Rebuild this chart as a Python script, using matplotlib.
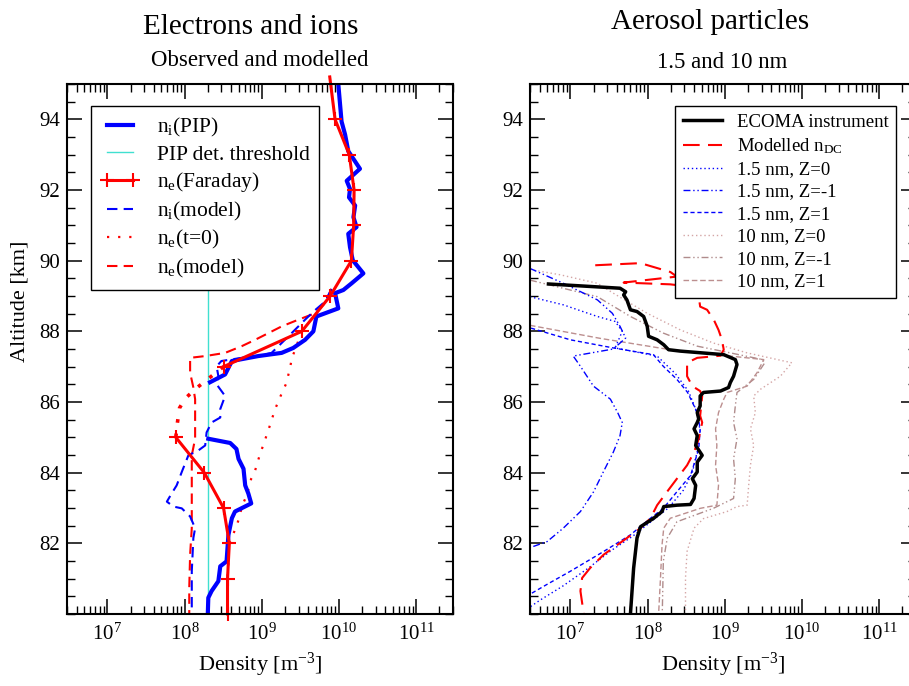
import numpy as np
import matplotlib
matplotlib.use("Agg")
import matplotlib.pyplot as plt
from matplotlib.lines import Line2D


# =========================
# DATA  (altitude in km, density in m^-3)
# =========================
# left panel: electrons and ions
ni_pip_alt = [95.0, 93.94, 93.57, 93.1, 92.6, 92.26, 92.03, 91.79, 91.56, 91.23, 90.95,
              90.76, 90.38, 90.01, 89.64, 89.36, 89.17, 89.08, 88.65, 88.42, 88.0, 87.76,
              87.53, 87.39, 87.3, 87.16, 86.78, 86.56]
ni_pip = [9.8e9, 1.08e10, 1.2e10, 1.32e10, 1.87e10, 1.26e10, 1.39e10, 1.35e10, 1.62e10,
          1.54e10, 1.69e10, 1.32e10, 1.39e10, 1.51e10, 2.07e10, 1.46e10, 1.14e10, 8.9e9,
          9.8e9, 5.1e9, 4.66e9, 3.64e9, 2.56e9, 1.81e9, 9.0e8, 4.1e8, 3.35e8, 2.14e8]
ni_pip_low_alt = [84.96, 84.84, 84.67, 84.39, 84.11, 83.64, 83.41, 83.13, 82.9, 82.71,
                  82.24, 81.49, 81.35, 80.93, 80.65, 80.46, 80.0]
ni_pip_low = [2.03e8, 3.9e8, 4.7e8, 5.0e8, 5.8e8, 6.1e8, 6.7e8, 7.3e8, 4.5e8, 4.1e8,
              3.7e8, 3.5e8, 2.9e8, 2.74e8, 2.24e8, 2.03e8, 2.0e8]

pip_threshold = 2.0e8
pip_threshold_alt = [80.0, 92.0]

ne_far_alt = [95.2, 94, 93, 92, 91, 90, 89, 88, 87]
ne_far = [7.6e9, 8.9e9, 1.36e10, 1.57e10, 1.55e10, 1.45e10, 7.7e9, 3.3e9, 3.2e8]
ne_far_low_alt = [85, 84, 83, 82, 81, 80]
ne_far_low = [7.7e7, 1.8e8, 3.2e8, 3.8e8, 3.6e8, 3.6e8]
ne_gap_alt = [87.0, 86.61, 86.39, 86.1, 85.83, 85.43, 85.0]
ne_gap = [3.2e8, 1.9e8, 1.42e8, 1.02e8, 8.6e7, 8.1e7, 7.7e7]

ni_mod_alt = [89.2, 88.84, 88.6, 88.33, 87.95, 87.67, 87.39, 87.3, 87.25, 87.16, 87.01,
              86.73, 86.5, 86.17, 85.8, 85.56, 85.42, 85.14, 84.77, 84.63, 84.49, 84.02,
              83.64, 83.41, 83.18, 83.04, 82.99, 82.76, 82.43, 82.15, 81.21, 80.0]
ni_mod = [8.0e9, 6.6e9, 4.9e9, 3.64e9, 2.44e9, 1.81e9, 1.34e9, 9.0e8, 5.5e8, 3.0e8, 2.6e8,
          2.74e8, 2.6e8, 3.35e8, 2.9e8, 2.9e8, 2.24e8, 1.93e8, 1.85e8, 1.51e8, 1.12e8, 9.2e7,
          7.9e7, 6.8e7, 5.9e7, 7.2e7, 9.2e7, 1.18e8, 1.37e8, 1.3e8, 1.24e8, 1.24e8]

ne_t0_alt = [88.0, 87.48, 87.22, 86.97, 86.52, 86.24, 85.8, 85.28, 84.79, 84.53, 84.06,
             83.83, 83.36, 83.08, 82.66, 82.38, 82.0, 81.0, 80.0]
ne_t0 = [3.3e9, 2.7e9, 2.44e9, 2.33e9, 2.07e9, 1.81e9, 1.49e9, 1.25e9, 1.05e9, 9.5e8,
         8.2e8, 7.3e8, 6.4e8, 5.6e8, 5.0e8, 4.5e8, 3.8e8, 3.6e8, 3.6e8]

ne_mod_alt = [89.2, 88.8, 88.51, 88.33, 88.14, 87.95, 87.76, 87.58, 87.39, 87.3, 87.25,
              86.83, 86.41, 86.08, 85.7, 85.33, 84.96, 84.49, 84.02, 83.08, 82.43, 81.68,
              80.74, 80.0]
ne_mod = [8.0e9, 6.6e9, 4.9e9, 2.98e9, 1.81e9, 1.22e9, 8.2e8, 5.5e8, 3.35e8, 1.85e8, 1.18e8,
          1.18e8, 1.3e8, 1.37e8, 1.37e8, 1.37e8, 1.37e8, 1.24e8, 1.24e8, 1.24e8, 1.24e8,
          1.18e8, 1.15e8, 1.15e8]

# right panel: aerosol particles
ecoma_alt = [89.34, 89.22, 89.12, 89.03, 88.89, 88.61, 88.56, 88.42, 88.14, 87.86, 87.76,
             87.62, 87.48, 87.44, 87.34, 87.2, 87.06, 86.73, 86.55, 86.41, 86.31, 86.27,
             86.17, 85.89, 85.7, 85.52, 85.42, 85.24, 85.05, 84.77, 84.49, 84.3, 84.02,
             83.83, 83.64, 83.27, 83.1, 83.08, 83.04, 82.9, 82.71, 82.47, 82.15, 81.3, 80.0]
ecoma = [5.2e6, 4.4e7, 5.2e7, 4.9e7, 5.4e7, 6.0e7, 7.3e7, 8.9e7, 9.9e7, 1.03e8, 1.33e8,
         1.62e8, 1.87e8, 2.66e8, 9.7e8, 1.37e9, 1.44e9, 1.3e9, 1.18e9, 1.12e9, 8.8e8, 5.3e8,
         4.8e8, 4.8e8, 4.4e8, 4.6e8, 4.4e8, 4.0e8, 4.4e8, 4.2e8, 5.1e8, 4.4e8, 4.4e8,
         3.8e8, 4.2e8, 4.0e8, 3.6e8, 2.4e8, 1.62e8, 1.54e8, 1.2e8, 8.1e7, 7.3e7, 6.6e7, 6.0e7]

ndc_alt = [89.87, 89.93, 89.68, 89.55, 89.38, 89.33, 89.25, 88.98, 88.7, 88.61, 88.33,
           88.04, 87.76, 87.48, 87.31, 87.25, 87.11, 86.73, 86.45, 86.31, 86.17, 85.61,
           85.42, 84.96, 84.58, 84.21, 83.83, 83.46, 83.08, 82.71, 82.43, 82.15, 81.68,
           81.3, 81.02, 80.65, 80.0]
ndc = [2.1e7, 8.1e7, 1.97e8, 2.4e8, 4.9e7, 1.97e8, 4.0e8, 4.6e8, 4.8e8, 5.9e8, 7.2e8,
       8.3e8, 9.2e8, 9.7e8, 8.8e8, 4.4e8, 3.25e8, 3.25e8, 3.8e8, 4.8e8, 5.1e8, 4.8e8,
       5.1e8, 4.6e8, 4.0e8, 3.25e8, 2.4e8, 1.79e8, 1.33e8, 1.09e8, 8.1e7, 5.4e7, 2.7e7,
       1.8e7, 1.42e7, 1.35e7, 1.49e7]

s15_z0_alt = [88.98, 88.75, 88.42, 88.28, 88.0, 87.53, 87.3, 86.8, 86.3, 85.8, 85.2, 84.6,
              84.0, 83.5, 83.0, 82.6, 82.2, 81.8, 81.3, 80.8, 80.4, 80.2]
s15_z0 = [3.0e6, 8.1e6, 2.24e7, 3.8e7, 4.7e7, 3.8e7, 1.33e8, 2.3e8, 3.4e8, 4.2e8, 4.8e8,
          4.4e8, 3.8e8, 2.9e8, 1.86e8, 1.09e8, 6.4e7, 3.4e7, 1.71e7, 8.1e6, 4.1e6, 3.0e6]

s15_zm_alt = [89.78, 89.36, 88.89, 88.51, 88.14, 87.81, 87.5, 87.3, 87.01, 86.45, 86.08,
              85.7, 85.42, 85.05, 84.58, 84.02, 83.46, 82.9, 82.43, 82.05, 81.91]
s15_zm = [3.0e6, 8.1e6, 2.24e7, 3.5e7, 4.4e7, 5.2e7, 3.6e7, 1.09e7, 1.35e7, 1.99e7, 3.3e7,
          4.1e7, 4.7e7, 4.4e7, 3.6e7, 2.67e7, 2.0e7, 1.35e7, 8.1e6, 5.0e6, 3.3e6]

s15_zp_alt = [88.09, 87.76, 87.53, 87.34, 87.01, 86.64, 86.27, 85.7, 85.24, 84.67, 83.92,
              83.46, 82.99, 82.71, 82.24, 81.77, 81.21, 80.84, 80.56]
s15_zp = [3.1e6, 1.0e7, 3.6e7, 1.19e8, 1.6e8, 2.4e8, 3.3e8, 4.4e8, 4.8e8, 4.6e8, 3.6e8,
          2.4e8, 1.6e8, 1.09e8, 6.0e7, 2.7e7, 1.0e7, 5.0e6, 3.0e6]

s10_z0_alt = [89.75, 89.6, 89.36, 89.08, 88.51, 88.04, 87.67, 87.39, 87.11, 86.73, 86.36,
              86.17, 85.7, 85.24, 84.77, 84.21, 83.64, 83.08, 83.04, 82.9, 82.7, 82.43,
              81.77, 81.02, 80.0]
s10_z0 = [3.0e6, 7.4e6, 2.24e7, 3.6e7, 9.9e7, 2.66e8, 7.1e8, 1.95e9, 7.4e9, 5.25e9, 2.9e9,
          2.37e9, 2.49e9, 2.15e9, 2.37e9, 2.15e9, 2.04e9, 1.95e9, 1.44e9, 1.07e9, 5.3e8,
          4.0e8, 3.25e8, 3.1e8, 3.1e8]

s10_zm_alt = [89.45, 88.98, 88.42, 87.95, 87.58, 87.39, 87.2, 87.11, 86.64, 86.27, 85.89,
              85.42, 84.96, 84.39, 83.83, 83.27, 82.99, 82.61, 82.15, 81.49, 80.0]
s10_zm = [3.0e6, 2.24e7, 6.0e7, 1.6e8, 4.4e8, 1.18e9, 3.1e9, 3.3e9, 2.37e9, 1.44e9, 1.37e9,
          1.3e9, 1.44e9, 1.3e9, 1.37e9, 1.3e9, 7.1e8, 2.4e8, 1.8e8, 1.6e8, 1.55e8]

s10_zp_alt = [88.17, 87.8, 87.48, 87.3, 87.2, 86.83, 86.45, 86.27, 86.08, 85.7, 85.24,
              84.77, 84.21, 83.64, 83.08, 82.99, 82.71, 82.43, 81.96, 81.02, 80.0]
s10_zp = [3.0e6, 2.45e7, 1.97e8, 1.18e9, 3.2e9, 2.62e9, 1.95e9, 1.07e9, 9.7e8, 8.3e8, 7.6e8,
          7.9e8, 7.6e8, 8.3e8, 7.9e8, 4.8e8, 1.97e8, 1.62e8, 1.54e8, 1.47e8, 1.39e8]

XLIM = (3e6, 3e11)
YLIM = (80, 95)


# =========================
# STYLE
# =========================
plt.rcParams["font.family"] = ["Liberation Serif", "DejaVu Serif"]
plt.rcParams["mathtext.fontset"] = "custom"
plt.rcParams["mathtext.rm"] = "Liberation Serif"
plt.rcParams["mathtext.it"] = "Liberation Serif:italic"
plt.rcParams["mathtext.bf"] = "Liberation Serif:bold"

W, H = 909, 686
fig = plt.figure(figsize=(W / 100, H / 100), dpi=100)


def px_box(x0, y0, x1, y1):
    return [x0 / W, 1 - y1 / H, (x1 - x0) / W, (y1 - y0) / H]


ax1 = fig.add_axes(px_box(67, 84, 453, 614))
ax2 = fig.add_axes(px_box(530, 84, 916, 614))

for ax in (ax1, ax2):
    ax.set_xscale("log")
    ax.set_xlim(*XLIM)
    ax.set_ylim(*YLIM)
    ax.set_yticks(np.arange(82, 95, 2))
    ax.set_yticks(np.arange(80, 95.01, 0.5), minor=True)
    ax.tick_params(which="major", direction="in", length=11, width=1.1,
                   top=True, right=True, labelsize=15, pad=5)
    ax.tick_params(which="minor", direction="in", length=5.5, width=1.0,
                   top=True, right=True)
    ax.tick_params(axis="x", which="major", pad=7)
    for s in ax.spines.values():
        s.set_linewidth(1.5)
    ax.set_xlabel(r"Density [m$^{\mathrm{-3}}$]", fontsize=16, labelpad=4)

# =========================
# LEFT PANEL
# =========================
far_style = dict(color="red", lw=2.2, marker="+", ms=10, mew=1.5)

ax1.plot(pip_threshold * np.ones(2), pip_threshold_alt, color="turquoise", lw=1)
ax1.plot(ne_mod, ne_mod_alt, color="red", lw=1.5, ls=(0, (5, 3)))
ax1.plot(ni_mod, ni_mod_alt, color="blue", lw=1.5, ls=(0, (5, 3)))
ax1.plot(ne_t0, ne_t0_alt, color="red", lw=1.6, ls=(0, (1, 4)))
ax1.plot(ni_pip, ni_pip_alt, color="blue", lw=3)
ax1.plot(ni_pip_low, ni_pip_low_alt, color="blue", lw=3)
ax1.plot(ne_gap, ne_gap_alt, color="red", lw=2.6, ls=(0, (1, 3)))
ax1.plot(ne_far, ne_far_alt, markevery=list(range(1, len(ne_far))), clip_on=False,
         **far_style)
ax1.plot(ne_far_low, ne_far_low_alt, clip_on=False, **far_style)

handles1 = [
    Line2D([], [], color="blue", lw=3),
    Line2D([], [], color="turquoise", lw=1),
    Line2D([], [], **far_style),
    Line2D([], [], color="blue", lw=1.5, ls=(0, (5, 3))),
    Line2D([], [], color="red", lw=1.6, ls=(0, (1, 4))),
    Line2D([], [], color="red", lw=1.5, ls=(0, (5, 3))),
]
labels1 = [r"n$_\mathrm{i}$(PIP)", "PIP det. threshold", r"n$_\mathrm{e}$(Faraday)",
           r"n$_\mathrm{i}$(model)", r"n$_\mathrm{e}$(t=0)", r"n$_\mathrm{e}$(model)"]
leg1 = ax1.legend(handles1, labels1, loc="upper left", bbox_to_anchor=(0.062, 0.958),
                  borderaxespad=0, fontsize=15.5, frameon=True, fancybox=False,
                  edgecolor="black", framealpha=1, handlelength=1.8, handletextpad=0.8,
                  labelspacing=0.26, borderpad=0.45, numpoints=2)
leg1.get_frame().set_linewidth(1.0)

fig.text(20 / W, 1 - 301 / H, "Altitude [km]", rotation=90, ha="center", va="center",
         fontsize=16)

# =========================
# RIGHT PANEL
# =========================
c10 = "#bc8f8f"
ax2.plot(s10_z0, s10_z0_alt, color="#d4a5a5", lw=1, ls=(0, (1, 2)))
ax2.plot(s10_zm, s10_zm_alt, color="#b08c8c", lw=1, ls=(0, (5, 2, 1, 2, 1, 2)))
ax2.plot(s10_zp, s10_zp_alt, color=c10, lw=1, ls=(0, (4, 2)))
ax2.plot(s15_z0, s15_z0_alt, color="blue", lw=1, ls=(0, (1, 2)))
ax2.plot(s15_zm, s15_zm_alt, color="blue", lw=1, ls=(0, (5, 2, 1, 2, 1, 2)))
ax2.plot(s15_zp, s15_zp_alt, color="blue", lw=1, ls=(0, (3, 2)))
ax2.plot(ndc, ndc_alt, color="red", lw=1.5, ls=(0, (8, 4)))
ax2.plot(ecoma, ecoma_alt, color="black", lw=2.5)

handles2 = [
    Line2D([], [], color="black", lw=2.5),
    Line2D([], [], color="red", lw=1.5, ls=(0, (8, 4))),
    Line2D([], [], color="blue", lw=1, ls=(0, (1, 2))),
    Line2D([], [], color="blue", lw=1, ls=(0, (5, 2, 1, 2, 1, 2))),
    Line2D([], [], color="blue", lw=1, ls=(0, (3, 2))),
    Line2D([], [], color="#d4a5a5", lw=1, ls=(0, (1, 2))),
    Line2D([], [], color="#b08c8c", lw=1, ls=(0, (5, 2, 1, 2, 1, 2))),
    Line2D([], [], color=c10, lw=1, ls=(0, (4, 2))),
]
labels2 = ["ECOMA instrument", r"Modelled n$_\mathrm{DC}$", "1.5 nm, Z=0", "1.5 nm, Z=-1",
           "1.5 nm, Z=1", "10 nm, Z=0", "10 nm, Z=-1", "10 nm, Z=1"]
leg2 = ax2.legend(handles2, labels2, loc="upper left", bbox_to_anchor=(0.376, 0.958),
                  borderaxespad=0, fontsize=13.5, frameon=True, fancybox=False,
                  edgecolor="black", framealpha=1, handlelength=2.1, handletextpad=0.8,
                  labelspacing=0.28, borderpad=0.4)
leg2.get_frame().set_linewidth(1.0)

# =========================
# TITLES
# =========================
fig.text(251 / W, 1 - 27 / H, "Electrons and ions", ha="center", va="center", fontsize=21)
fig.text(260 / W, 1 - 61 / H, "Observed and modelled", ha="center", va="center",
         fontsize=16.5)
fig.text(710 / W, 1 - 22 / H, "Aerosol particles", ha="center", va="center", fontsize=21)
fig.text(722 / W, 1 - 62 / H, "1.5 and 10 nm", ha="center", va="center", fontsize=16.5)

fig.savefig("out.png", dpi=100)
